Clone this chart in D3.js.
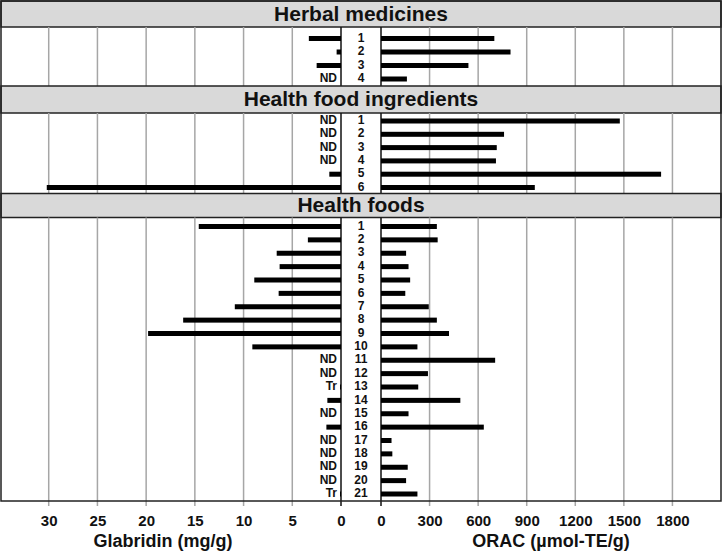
<!DOCTYPE html>
<html>
<head>
<meta charset="utf-8">
<script src="https://cdn.jsdelivr.net/npm/d3@7"></script>
<style>
  body { margin: 0; background: #fff; }
  svg { display: block; }
  text { font-family: "Liberation Sans", Arial, sans-serif; font-weight: bold; }
</style>
</head>
<body>
<svg id="chart" width="722" height="552"></svg>
<script>
// group titles
const groups = ["Herbal medicines", "Health food ingredients", "Health foods"];

// Herbal medicines
const herbalIds = ["1", "2", "3", "4"];
const herbalGlabridin = [3.3, 0.45, 2.5, 0];
const herbalNote = ["", "", "", "ND"];
const herbalOrac = [700, 800, 540, 160];

// Health food ingredients
const ingredientIds = ["1", "2", "3", "4", "5", "6"];
const ingredientGlabridin = [0, 0, 0, 0, 1.2, 30.2];
const ingredientNote = ["ND", "ND", "ND", "ND", "", ""];
const ingredientOrac = [1475, 760, 715, 710, 1730, 950];

// Health foods
const foodIds = d3.range(1, 22).map(String);
const foodGlabridin = [14.6, 3.4, 6.6, 6.3, 8.9, 6.4, 10.9, 16.2, 19.8, 9.1,
  0, 0, 0.1, 1.4, 0, 1.5, 0, 0, 0, 0, 0.1];
const foodNote = ["", "", "", "", "", "", "", "", "", "",
  "ND", "ND", "Tr", "", "ND", "", "ND", "ND", "ND", "ND", "Tr"];
const foodOrac = [345, 350, 155, 170, 180, 150, 295, 345, 420, 225,
  705, 290, 230, 490, 170, 635, 65, 70, 165, 155, 225];

// axis ticks
const glabridinTicks = [0, 5, 10, 15, 20, 25, 30];
const oracTicks = [0, 300, 600, 900, 1200, 1500, 1800];

const panels = [
  { title: groups[0], ids: herbalIds, glab: herbalGlabridin, note: herbalNote, orac: herbalOrac,
    top: 1, head: 27, bottom: 86, padTop: 11.5, padBottom: 7 },
  { title: groups[1], ids: ingredientIds, glab: ingredientGlabridin, note: ingredientNote, orac: ingredientOrac,
    top: 86, head: 113, bottom: 193.5, padTop: 8, padBottom: 6 },
  { title: groups[2], ids: foodIds, glab: foodGlabridin, note: foodNote, orac: foodOrac,
    top: 193.5, head: 217.5, bottom: 501, padTop: 9, padBottom: 7 }
];

const svg = d3.select("#chart");
const W = 722;
const xL = d3.scaleLinear().domain([0, 35]).range([341, 0]);
const xR = d3.scaleLinear().domain([0, 2100]).range([381, 721]);
const colL = xL(0), colR = xR(0);
const plotTop = 1, plotBottom = 501, tickLen = 5;
const barH = 5;

panels.forEach(p => {
  const g = svg.append("g");
  const y = d3.scalePoint()
    .domain(p.ids)
    .range([p.head + p.padTop, p.bottom - p.padBottom]);

  // header band
  g.append("rect")
    .attr("x", 1).attr("y", p.top)
    .attr("width", W - 2).attr("height", p.head - p.top)
    .attr("fill", "#d9d9d9")
    .attr("stroke", "#222").attr("stroke-width", 1.5);
  g.append("text")
    .attr("x", W / 2).attr("y", (p.top + p.head) / 2 + 1)
    .attr("text-anchor", "middle").attr("dominant-baseline", "middle")
    .attr("font-size", 21).attr("fill", "#111")
    .text(p.title);

  // gridlines (the last panel carries them down as tick marks)
  const isLast = p === panels[panels.length - 1];
  const gBottom = isLast ? p.bottom + tickLen : p.bottom;
  g.selectAll(".gl").data(glabridinTicks.filter(d => d > 0)).enter().append("line")
    .attr("x1", d => xL(d)).attr("x2", d => xL(d))
    .attr("y1", p.head).attr("y2", gBottom)
    .attr("stroke", "#a6a6a6").attr("stroke-width", 1.5);
  g.selectAll(".gr").data(oracTicks.filter(d => d > 0)).enter().append("line")
    .attr("x1", d => xR(d)).attr("x2", d => xR(d))
    .attr("y1", p.head).attr("y2", gBottom)
    .attr("stroke", "#a6a6a6").attr("stroke-width", 1.5);

  // centre column lines
  [colL, colR].forEach(cx => {
    g.append("line")
      .attr("x1", cx).attr("x2", cx)
      .attr("y1", p.head).attr("y2", gBottom)
      .attr("stroke", "#111").attr("stroke-width", 1.5);
  });

  // glabridin bars (to the left)
  g.selectAll(".bl").data(p.glab).enter().append("rect")
    .attr("x", d => xL(d))
    .attr("y", (d, i) => y(p.ids[i]) - barH / 2)
    .attr("width", d => xL(0) - xL(d))
    .attr("height", barH)
    .attr("fill", "#000");

  // ORAC bars (to the right)
  g.selectAll(".br").data(p.orac).enter().append("rect")
    .attr("x", xR(0))
    .attr("y", (d, i) => y(p.ids[i]) - barH / 2)
    .attr("width", d => xR(d) - xR(0))
    .attr("height", barH)
    .attr("fill", "#000");

  // ND / Tr notes
  g.selectAll(".nt").data(p.note).enter().append("text")
    .attr("x", colL - 4)
    .attr("y", (d, i) => y(p.ids[i]))
    .attr("text-anchor", "end").attr("dominant-baseline", "middle")
    .attr("font-size", 12).attr("fill", "#111")
    .text(d => d);

  // sample numbers
  g.selectAll(".id").data(p.ids).enter().append("text")
    .attr("x", (colL + colR) / 2)
    .attr("y", d => y(d))
    .attr("text-anchor", "middle").attr("dominant-baseline", "middle")
    .attr("font-size", 12).attr("fill", "#111")
    .text(d => d);
});

// outer frame
svg.append("rect")
  .attr("x", 1).attr("y", plotTop)
  .attr("width", W - 2).attr("height", plotBottom - plotTop)
  .attr("fill", "none").attr("stroke", "#222").attr("stroke-width", 1.5);

// axes labels
const axL = svg.append("g").attr("transform", `translate(0,${plotBottom})`)
  .call(d3.axisBottom(xL).tickValues(glabridinTicks).tickFormat(d3.format("d")).tickSize(0).tickPadding(14));
const axR = svg.append("g").attr("transform", `translate(0,${plotBottom})`)
  .call(d3.axisBottom(xR).tickValues(oracTicks).tickFormat(d3.format("d")).tickSize(0).tickPadding(14));
[axL, axR].forEach(ax => {
  ax.select(".domain").remove();
  ax.selectAll("text").attr("font-size", 15).attr("fill", "#111")
    .attr("font-family", null);
});

svg.append("text")
  .attr("x", 163).attr("y", 547)
  .attr("text-anchor", "middle")
  .attr("font-size", 18).attr("fill", "#111")
  .text("Glabridin (mg/g)");
svg.append("text")
  .attr("x", 551).attr("y", 547)
  .attr("text-anchor", "middle")
  .attr("font-size", 18).attr("fill", "#111")
  .text("ORAC (µmol-TE/g)");
</script>
</body>
</html>
